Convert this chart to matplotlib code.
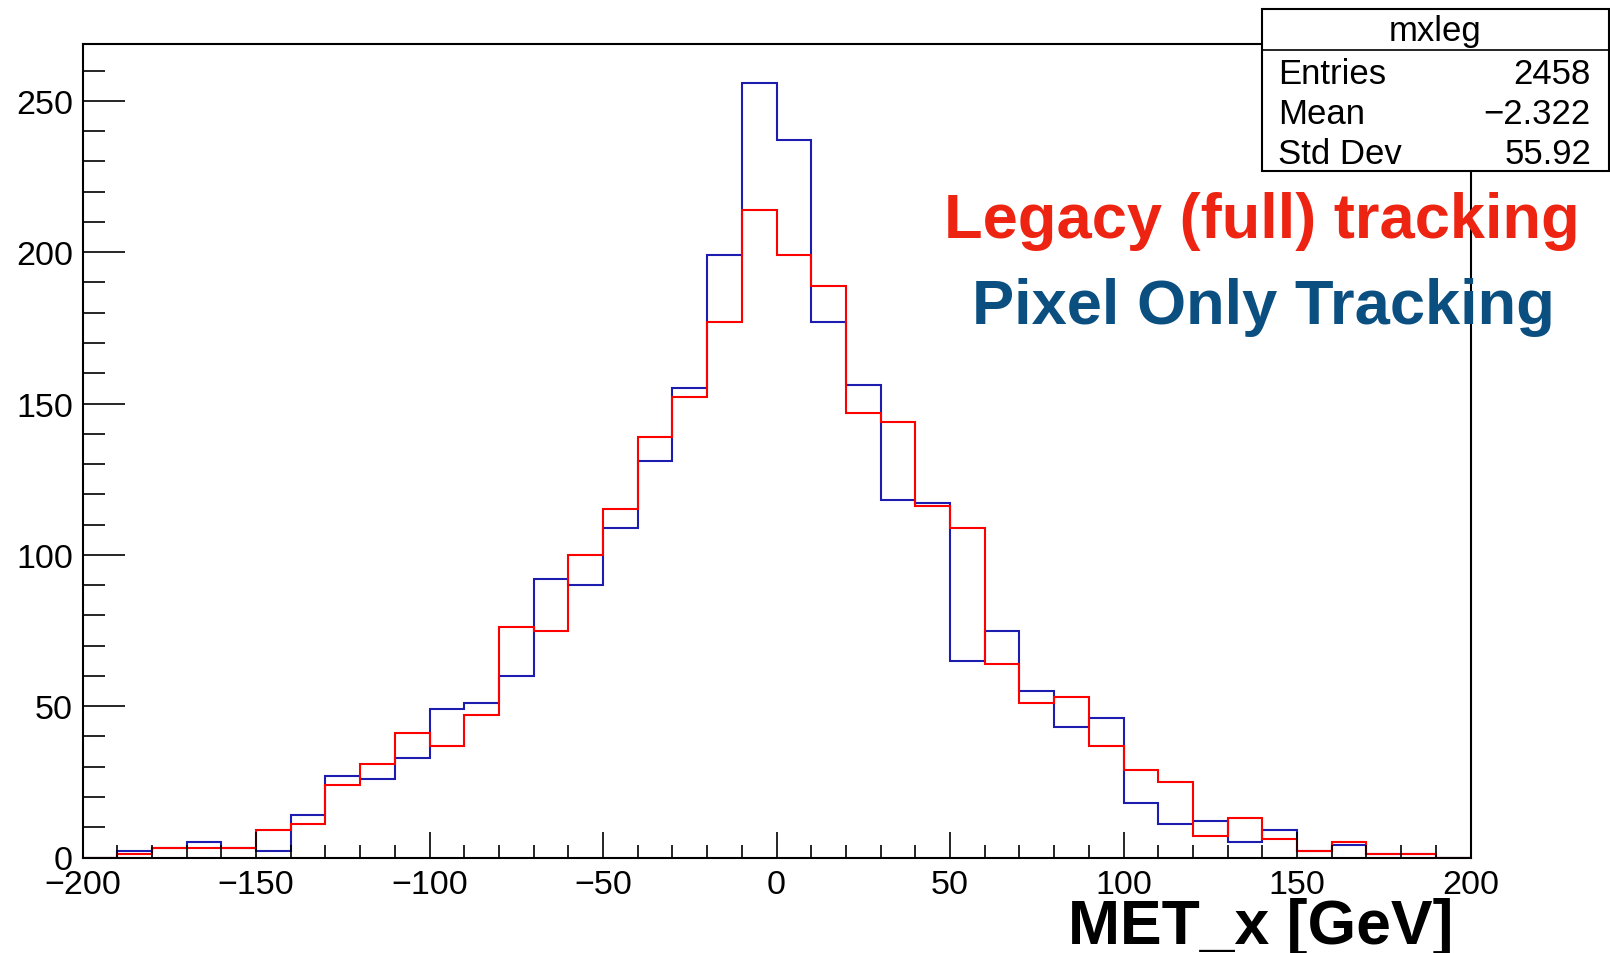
import numpy as np
import matplotlib.pyplot as plt
from matplotlib.patches import Rectangle
from matplotlib.lines import Line2D
from matplotlib.ticker import MultipleLocator

plt.rcParams['font.family'] = ['Liberation Sans', 'DejaVu Sans']

# MET_x histograms, 10 GeV bins from -200 to 200
bin_edges = np.arange(-200, 201, 10)

pixel_counts = [0, 2, 3, 5, 3, 2, 14, 27, 26, 33,
                49, 51, 60, 92, 90, 109, 131, 155, 199, 256,
                237, 177, 156, 118, 117, 65, 75, 55, 43, 46,
                18, 11, 12, 5, 9, 2, 4, 1, 1, 0]
legacy_counts = [0, 1, 3, 3, 3, 9, 11, 24, 31, 41,
                 37, 47, 76, 75, 100, 115, 139, 152, 177, 214,
                 199, 189, 147, 144, 116, 109, 64, 51, 53, 37,
                 29, 25, 7, 13, 6, 2, 5, 1, 1, 0]

stats_title = "mxleg"
stats_names = ["Entries", "Mean", "Std Dev"]
stats_values = ["2458", "\u22122.322", "55.92"]

W, H = 1610, 954   # pixels

def fx(px):
    return px / W

def fy(py):
    return 1 - py / H

fig = plt.figure(figsize=(W / 100, H / 100), dpi=100)
ax = fig.add_axes([fx(82.5), fy(858.5), (1470.5 - 82.5) / W, (858.5 - 45) / H])

ax.stairs(pixel_counts, bin_edges, baseline=0, color="#1c1cb0", lw=1.5)
ax.stairs(legacy_counts, bin_edges, baseline=0, color="#ff0000", lw=1.5)

ax.set_xlim(-200, 200)
ax.set_ylim(0, 1.05 * max(pixel_counts))

ax.xaxis.set_major_locator(MultipleLocator(50))
ax.xaxis.set_minor_locator(MultipleLocator(10))
ax.yaxis.set_major_locator(MultipleLocator(50))
ax.yaxis.set_minor_locator(MultipleLocator(10))
ax.tick_params(axis="x", which="major", direction="in", length=19, width=1.2,
               labelsize=24.5, pad=8, top=False)
ax.tick_params(axis="x", which="minor", direction="in", length=9.5, width=1.2, top=False)
ax.tick_params(axis="y", which="major", direction="in", length=30, width=1.2,
               labelsize=24.5, pad=7, right=False)
ax.tick_params(axis="y", which="minor", direction="in", length=16, width=1.2, right=False)
for sp in ax.spines.values():
    sp.set_linewidth(1.5)

ax.set_xlabel("MET_x [GeV]", fontsize=45, fontweight="bold", ha="right", va="baseline")
ax.xaxis.set_label_coords((1453 - 82.5) / 1388, (858.5 - 944) / 813.5)

fig.text(fx(1262), fy(238), "Legacy (full) tracking", ha="center", va="baseline",
         fontsize=45.5, fontweight="bold", color="#ee2412")
fig.text(fx(1263), fy(324), "Pixel Only Tracking", ha="center", va="baseline",
         fontsize=45.5, fontweight="bold", color="#0b4f81")

# stats box
box = Rectangle((fx(1262), fy(172)), (1609 - 1262) / W, (172 - 10) / H,
                transform=fig.transFigure, facecolor="white", edgecolor="black", lw=1.5)
fig.add_artist(box)
fig.add_artist(Line2D([fx(1262), fx(1609)], [fy(51), fy(51)],
                      transform=fig.transFigure, color="black", lw=1.2))
fig.text(fx(1435), fy(41), stats_title, ha="center", va="baseline", fontsize=25)
for i, (name, val) in enumerate(zip(stats_names, stats_values)):
    yb = fy(84 + 40 * i)
    fig.text(fx(1278), yb, name, ha="left", va="baseline", fontsize=25)
    fig.text(fx(1591), yb, val, ha="right", va="baseline", fontsize=25)

fig.savefig("out.png", dpi=100)
